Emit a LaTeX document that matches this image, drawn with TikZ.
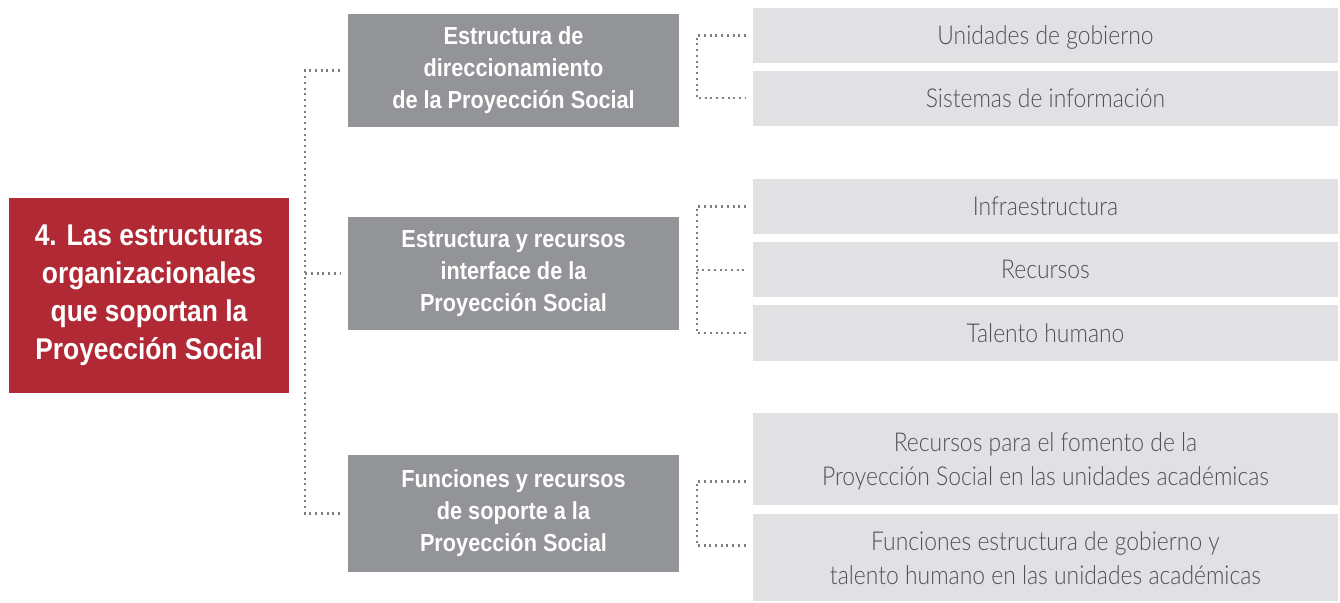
\documentclass[tikz,border=0pt]{standalone}
\usepackage{fontspec}
\usepackage{tikz}
\usetikzlibrary{positioning,calc}
\definecolor{mainred}{RGB}{177,41,52}
\definecolor{midgray}{RGB}{147,148,152}
\definecolor{leafgray}{RGB}{225,225,227}
\definecolor{leaftext}{RGB}{80,80,84}
\definecolor{dotgray}{RGB}{128,128,132}
\newfontfamily\condfont[FakeStretch=0.88]{Liberation Sans}
\newfontfamily\lightfont[FakeStretch=0.88]{Lato Light}

\begin{document}
\begin{tikzpicture}[
            x=0.75pt, y=-0.75pt,
            every node/.style={inner sep=0pt, align=center},
            mainbox/.style={rectangle, fill=mainred, text=white,
                            minimum width=210pt, minimum height=146.25pt,
                            font=\condfont\bfseries\fontsize{22.5}{28.5}\selectfont},
            branch/.style={rectangle, fill=midgray, text=white,
                           minimum width=248.25pt, minimum height=84.75pt,
                           font=\condfont\bfseries\fontsize{18.5}{24}\selectfont},
            leaf/.style={rectangle, fill=leafgray, text=leaftext, text depth=0pt,
                         minimum width=438.75pt, minimum height=41.5pt,
                         font=\lightfont\fontsize{19.5}{25.5}\selectfont},
            conn/.style={dotgray, line width=1.6pt, dash pattern=on 1.5pt off 2.8pt}
        ]

        \useasboundingbox (0,0) rectangle (1340,603);

        \node[mainbox] (main) at (149,295.5) {4. Las estructuras\\organizacionales\\que soportan la\\Proyección Social};

        \node[branch] (dir) at (513.5,70.5) {Estructura de\\direccionamiento\\de la Proyección Social};
        \node[branch] (inter) at (513.5,273.5) {Estructura y recursos\\interface de la\\Proyección Social};
        \node[branch, minimum height=87.75pt] (fun) at (513.5,513.5) {Funciones y recursos\\de soporte a la\\Proyección Social};

        \node[leaf] (unid) at (1045.5,35.5) {Unidades de gobierno};
        \node[leaf, below=5.25pt of unid] (sist) {Sistemas de información};

        \node[leaf] (infra) at (1045.5,206.5) {Infraestructura};
        \node[leaf, below=5.5pt of infra] (recu) {Recursos};
        \node[leaf, below=5.5pt of recu] (tal) {Talento humano};

        \node[leaf, minimum height=69pt] (fomA) at (1045.5,459) {Recursos para el fomento de la\\Proyección Social en las unidades académicas};
        \node[leaf, minimum height=65.25pt, below=6.5pt of fomA] (fomB) {Funciones estructura de gobierno y\\talento humano en las unidades académicas};

        \coordinate (f1) at ([yshift=24pt]fun.east);
        \coordinate (f2) at ([yshift=-24pt]fun.east);

        \draw[conn] ([xshift=-6pt]dir.west) -| ([xshift=12pt]main.east |- fun.west) -- ([xshift=-6pt]fun.west);
        \draw[conn] ([xshift=12pt]main.east |- inter.west) -- ([xshift=-6pt]inter.west);

        \draw[conn] ([xshift=-5pt]unid.west) -| ([xshift=13pt]dir.east |- sist.west) -- ([xshift=-5pt]sist.west);
        \draw[conn] ([xshift=-5pt]infra.west) -| ([xshift=13pt]inter.east |- tal.west) -- ([xshift=-5pt]tal.west);
        \draw[conn] ([xshift=13pt]inter.east |- recu.west) -- ([xshift=-5pt]recu.west);
        \draw[conn] ([xshift=-5pt]fomA.west |- f1) -| ([xshift=13pt]f2) -- ([xshift=-5pt]fomB.west |- f2);

\end{tikzpicture}
\end{document}
